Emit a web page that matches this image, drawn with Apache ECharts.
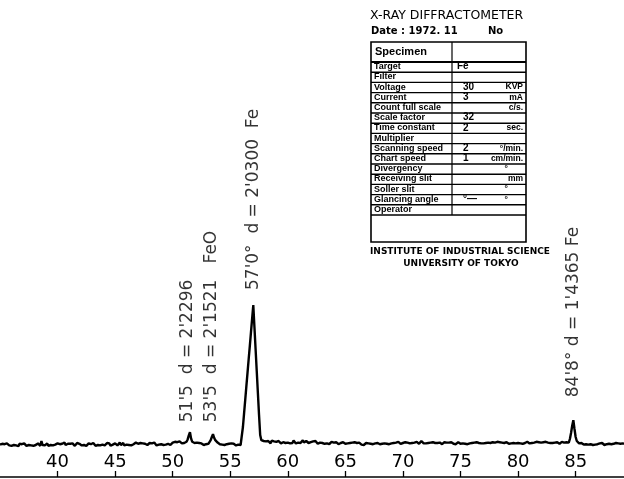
<!DOCTYPE html>
<html>
<head>
<meta charset="utf-8">
<script src="https://cdn.jsdelivr.net/npm/echarts@6/dist/echarts.min.js"></script>
<style>
  html, body { margin: 0; padding: 0; background: #fff; }
  #chart { width: 624px; height: 479px; }
</style>
</head>
<body>
<div id="chart"></div>
<script>
// Diffractometer scan: 2-theta from 35.0 deg in 0.1 deg steps, chart-pen intensity (arb. units)
const scanStart = 35.0;
const scanStep = 0.1;
const intensity = [
  81,78,83,79,82,77,84,80,79,83,   // 35
  78,82,80,84,79,81,77,83,80,82,   // 36
  79,84,81,78,83,80,85,79,82,78,   // 37
  83,80,79,84,81,78,90,80,83,79,   // 38
  81,84,78,82,80,85,79,83,81,78,   // 39
  84,80,82,79,83,81,86,80,78,83,   // 40
  80,83,79,84,81,78,82,85,80,83,   // 41
  82,79,84,80,83,78,81,84,79,82,   // 42
  80,85,81,78,83,80,84,79,82,81,   // 43
  83,79,82,85,80,84,78,83,81,80,   // 44
  84,81,79,83,86,80,82,85,79,84,   // 45
  81,85,80,83,79,84,82,80,86,81,   // 46
  83,80,85,81,84,79,83,86,80,82,   // 47
  85,81,84,80,86,82,79,84,81,85,   // 48
  82,86,80,84,81,85,83,87,80,84,   // 49
  86,83,88,84,87,85,89,86,84,88,   // 50
  85,87,88,94,104,112,96,88,84,85, // 51
  83,86,82,85,81,84,83,80,84,82,   // 52
  85,83,86,92,100,107,98,92,88,86, // 53
  84,82,85,81,83,80,84,82,79,83,   // 54
  81,84,80,83,82,79,84,81,83,80,   // 55
  85,125,159,193,227,261,295,328,362,396, // 56
  430,375,320,265,210,155,105,92,88,90,   // 57
  86,89,85,90,87,84,91,86,89,85,   // 58
  88,85,90,86,84,89,87,91,85,88,   // 59
  86,90,84,88,85,91,87,84,89,86,   // 60
  89,85,88,92,86,84,90,87,85,89,   // 61
  87,84,89,85,90,86,83,88,86,84,   // 62
  85,88,83,86,84,87,82,85,88,84,   // 63
  86,83,87,84,82,86,85,83,87,84,   // 64
  83,86,84,88,85,82,86,84,87,83,   // 65
  85,82,86,83,81,84,80,83,85,82,   // 66
  84,86,83,85,82,86,84,81,85,83,   // 67
  82,85,83,86,84,87,83,85,82,86,   // 68
  84,87,85,83,86,84,88,85,83,86,   // 69
  85,83,87,84,86,88,84,87,85,83,   // 70
  86,84,88,85,83,87,90,85,84,86,   // 71
  84,87,85,82,86,84,87,83,85,88,   // 72
  85,83,86,84,82,85,87,84,86,83,   // 73
  86,84,87,85,83,86,82,85,87,84,   // 74
  83,86,84,80,83,85,82,86,84,87,   // 75
  85,82,86,84,87,83,85,88,84,86,   // 76
  84,87,85,83,86,89,85,84,87,85,   // 77
  86,84,88,85,87,83,86,88,85,84,   // 78
  87,85,83,86,84,88,85,87,84,86,   // 79
  85,88,84,86,83,87,85,84,88,86,   // 80
  84,87,85,89,86,84,88,85,87,84,   // 81
  86,84,87,85,88,84,86,89,85,87,   // 82
  85,88,86,84,87,85,83,86,88,85,   // 83
  86,84,87,85,86,95,110,128,142,120, // 84
  100,90,86,84,82,85,83,81,84,82,  // 85
  83,81,84,82,85,80,83,81,84,82,   // 86
  81,84,82,85,83,80,84,82,81,83,   // 87
  84,82,80,83,81,85,82,84,80,83,   // 88
  82,84,81,83                      // 89
];

// 2-theta axis ticks
const axisTicks = [40, 45, 50, 55, 60, 65, 70, 75, 80, 85];

// Identified reflections
const peakAngles = [51.5, 53.5, 57.0, 84.8];
const peakTexts = [
  "51'5  d = 2'2296",
  "53'5  d = 2'1521   FeO",
  "57'0°  d = 2'0300  Fe",
  "84'8° d = 1'4365 Fe"
];

// Instrument record card
const cardTitle = 'X-RAY DIFFRACTOMETER';
const cardDate = 'Date : 1972. 11';
const cardNo = 'No';
const cardRows = ['Target', 'Filter', 'Voltage', 'Current', 'Count full scale', 'Scale factor',
  'Time constant', 'Multiplier', 'Scanning speed', 'Chart speed', 'Divergency',
  'Receiving slit', 'Soller slit', 'Glancing angle', 'Operator'];
const cardValues = ['Fe', '', '30', '3', '', '32', '2', '', '2', '1', '', '', '', '°—', ''];
const cardUnits = ['', '', 'KVP', 'mA', 'c/s.', '', 'sec.', '', '°/min.', 'cm/min.', '°', 'mm', '°', '°', ''];
const cardFooter = ['INSTITUTE OF INDUSTRIAL SCIENCE', 'UNIVERSITY OF TOKYO'];

// ---- build the trace ----
const trace = intensity.map((v, i) => [Math.round((scanStart + i * scanStep) * 10) / 10, v]);
const valueAt = a => intensity[Math.round((a - scanStart) / scanStep)];

// label placement above each peak: [gap upward, sideways shift] in the rotated text frame (px)
const labelShift = [[10, -2], [12, -1], [15, 0], [23, 0]];

const peakLabels = peakAngles.map((a, i) => ({
  value: [a, valueAt(a)],
  label: {
    show: true,
    formatter: peakTexts[i],
    position: 'inside',
    rotate: 90,
    align: 'left',
    verticalAlign: 'middle',
    offset: labelShift[i],
    color: '#000'
  }
}));

// ---- record card graphics ----
const card = { left: 371, right: 526, top: 42, head: 62, row: 10.2, bottom: 242, split: 452 };
const g = [];
const ink = '#000';
g.push({ type: 'text', left: 370, top: 9, style: { text: cardTitle, fill: ink, font: '12.5px "DejaVu Sans"' } });
g.push({ type: 'text', left: 371, top: 26, style: { text: cardDate, fill: ink, font: 'bold 10px "DejaVu Sans"' } });
g.push({ type: 'text', left: 488, top: 26, style: { text: cardNo, fill: ink, font: 'bold 10px "DejaVu Sans"' } });
g.push({ type: 'rect', shape: { x: card.left, y: card.top, width: card.right - card.left, height: card.bottom - card.top },
  style: { fill: null, stroke: ink, lineWidth: 1.6 } });
const lastRowBottom = card.head + card.row * cardRows.length;
g.push({ type: 'line', shape: { x1: card.split, y1: card.top, x2: card.split, y2: lastRowBottom }, style: { stroke: ink, lineWidth: 1.2 } });
g.push({ type: 'line', shape: { x1: card.left, y1: card.head, x2: card.right, y2: card.head }, style: { stroke: ink, lineWidth: 1.8 } });
g.push({ type: 'text', left: 375, top: 46, style: { text: 'Specimen', fill: ink, font: 'bold 11px "Liberation Sans"' } });
cardRows.forEach((name, i) => {
  const yb = card.head + card.row * (i + 1);
  g.push({ type: 'line', shape: { x1: card.left, y1: yb, x2: card.right, y2: yb }, style: { stroke: ink, lineWidth: 1.4 } });
  g.push({ type: 'text', x: 374, y: yb - 1, style: { text: name, fill: ink, font: 'bold 9px "Liberation Sans"', textVerticalAlign: 'bottom' } });
  if (cardValues[i]) {
    g.push({ type: 'text', x: i === 0 ? 457 : 463, y: yb - 0.5, style: { text: cardValues[i], fill: ink, font: 'bold 10px "Liberation Sans"', textVerticalAlign: 'bottom' } });
  }
  if (cardUnits[i]) {
    g.push({ type: 'text', x: cardUnits[i] === '°' ? 508 : 523, y: yb - 1,
      style: { text: cardUnits[i], fill: ink, font: 'bold 8.5px "Liberation Sans"', textAlign: 'right', textVerticalAlign: 'bottom' } });
  }
});
g.push({ type: 'text', left: 370, top: 247, style: { text: cardFooter[0], fill: ink, font: 'bold 9px "DejaVu Sans"' } });
g.push({ type: 'text', x: 461, top: 259, style: { text: cardFooter[1], fill: ink, font: 'bold 9px "DejaVu Sans"', textAlign: 'center' } });

const chart = echarts.init(document.getElementById('chart'), null, { renderer: 'canvas' });
chart.setOption({
  animation: false,
  backgroundColor: '#fff',
  grid: { left: 0, right: 0, top: 77, bottom: 2 },
  xAxis: {
    type: 'value',
    min: 35,
    max: 89.2,
    axisLine: { show: true, lineStyle: { color: ink, width: 1.5 } },
    axisTick: { show: true, inside: true, length: 6, customValues: axisTicks, lineStyle: { color: ink, width: 1.3 } },
    axisLabel: { show: true, inside: true, margin: 6, customValues: axisTicks, color: ink, fontSize: 18, fontFamily: 'DejaVu Sans' },
    splitLine: { show: false }
  },
  yAxis: { type: 'value', min: 0, max: 1000, show: false },
  series: [
    {
      type: 'line',
      data: trace,
      showSymbol: false,
      lineStyle: { color: ink, width: 2.4 },
      clip: true
    },
    {
      type: 'scatter',
      data: peakLabels,
      symbolSize: 1,
      itemStyle: { color: 'rgba(0,0,0,0)' },
      label: { color: ink, fontSize: 17, fontFamily: 'DejaVu Sans' },
      silent: true,
      z: 5
    }
  ],
  graphic: g
});
</script>
</body>
</html>
